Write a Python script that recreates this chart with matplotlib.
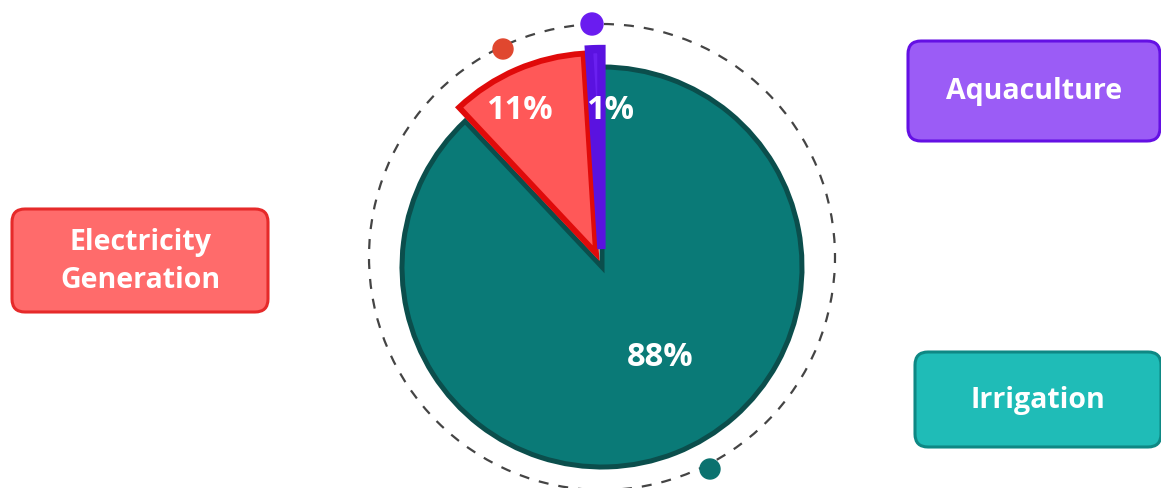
import matplotlib.pyplot as plt
from matplotlib.patches import FancyBboxPatch, Circle
import numpy as np

# water use shares
labels = ['Irrigation', 'Electricity\nGeneration', 'Aquaculture']
shares = [88, 11, 1]
pct_text = ['88%', '11%', '1%']

# colours
fills = ['#0a7a77', '#ff5858', '#6a20f0']
edges = ['#0b4e4c', '#e00a0a', '#5a12e0']
box_fills = ['#1fbcb7', '#ff6b6b', '#9b5cf6']
box_edges = ['#0e8884', '#e62a2a', '#6410e4']
dot_colors = ['#0b726f', '#e0472f', '#6a1cf0']

# layout (pixel space, y measured from top)
W, H = 1161, 489
CX, CY, R = 602, 268, 200
explode = [0, 0.075, 0.09]       # fraction of radius
edge_lw = [3.6, 4.2, 6.0]
label_pos = [(0.535, -57.2), (0.89, 117.7), (0.79, 87.1)]  # (radius frac, angle)
box_rects = [(915, 353, 246, 95), (12, 210, 256, 103), (908, 42, 252, 100)]
dot_xy = [(710, 470), (503, 50), (592, 25)]
dot_r = [10, 10, 11]
ring = (602, 258, 233)

plt.rcParams['font.family'] = ['Open Sans', 'DejaVu Sans']

fig = plt.figure(figsize=(W / 100, H / 100), dpi=100)
ax = fig.add_axes([0, 0, 1, 1])

def fy(y):
    return H - y

# dashed ring
ax.add_patch(Circle((ring[0], fy(ring[1])), ring[2], fill=False, ec='#444444',
                    lw=1.6, ls=(0, (4.5, 4.5)), zorder=1))

# pie's explode is in data units, so scale by radius
wedges, _ = ax.pie(shares, colors=fills, startangle=90, counterclock=False,
                   explode=[e * R for e in explode], center=(CX, fy(CY)), radius=R,
                   wedgeprops=dict(joinstyle='miter'))
for w, ec, lw in zip(wedges, edges, edge_lw):
    w.set_edgecolor(ec)
    w.set_linewidth(lw)
    w.set_zorder(2)

for (rf, ang), t in zip(label_pos, pct_text):
    a = np.deg2rad(ang)
    ax.text(CX + rf * R * np.cos(a), fy(CY) + rf * R * np.sin(a), t,
            ha='center', va='center', color='white', fontsize=23.5,
            fontweight='bold', zorder=5)

# dots on ring
for (x, y), r, c in zip(dot_xy, dot_r, dot_colors):
    ax.add_patch(Circle((x, fy(y)), r, fc=c, ec=c, lw=1, zorder=4))

# category boxes
for (x, y, w, h), lab, fc, ec in zip(box_rects, labels, box_fills, box_edges):
    ax.add_patch(FancyBboxPatch((x, fy(y + h)), w, h,
                                boxstyle='round,pad=0,rounding_size=13',
                                fc=fc, ec=ec, lw=2.2, zorder=3))
    ax.text(x + w / 2, fy(y + h / 2), lab, ha='center', va='center',
            color='white', fontsize=20.5, fontweight='bold', linespacing=1.45,
            zorder=4)

ax.set_xlim(0, W)
ax.set_ylim(0, H)
ax.set_aspect('auto')
ax.axis('off')

fig.savefig('out.png', dpi=100, facecolor='white')
